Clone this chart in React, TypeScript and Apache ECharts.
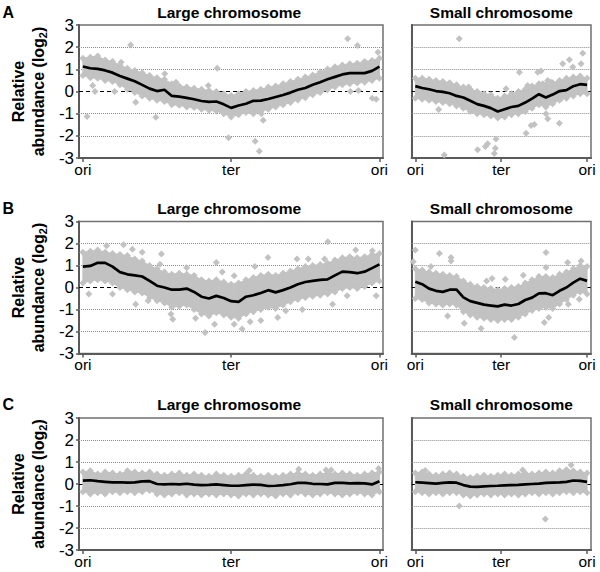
import React, { useEffect, useRef } from "react";
import * as echarts from "echarts";

const FONT = "'Liberation Sans', Arial, Helvetica, sans-serif";
const GRAY = "#c2c2c2";

// genome position grids (ori = 0, ter = 50, ori = 100)
const largeX = [0, 2.5, 5, 7.5, 10, 12.5, 15, 17.5, 20, 22.5, 25, 27.5, 30, 32.5, 35, 37.5, 40, 42.5, 45, 47.5, 50, 52.5, 55, 57.5, 60, 62.5, 65, 67.5, 70, 72.5, 75, 77.5, 80, 82.5, 85, 87.5, 90, 92.5, 95, 97.5, 100];
const smallX = [0, 4, 8, 12, 16, 20, 24, 28, 32, 36, 40, 44, 48, 52, 56, 60, 64, 68, 72, 76, 80, 84, 88, 92, 96, 100];

const xTickValues = [0, 50, 100];
const xTickLabels = ["ori", "ter", "ori"];
const gridLineValues = [-2, -1, 1, 2];

const rowLetters = ["A", "B", "C"];
const panelTitles = ["Large chromosome", "Small chromosome"];

// ---- Row A ----
const aLargeMean = [1.13, 1.05, 1.02, 0.95, 0.85, 0.7, 0.58, 0.46, 0.3, 0.13, 0.02, 0.08, -0.2, -0.23, -0.29, -0.35, -0.43, -0.47, -0.45, -0.58, -0.74, -0.63, -0.55, -0.42, -0.41, -0.34, -0.25, -0.16, -0.05, 0.08, 0.16, 0.3, 0.42, 0.55, 0.66, 0.77, 0.83, 0.83, 0.83, 0.93, 1.12];
const aLargeUpper = [1.5, 1.55, 1.6, 1.42, 1.35, 1.2, 1.05, 0.95, 0.85, 0.72, 0.62, 0.55, 0.35, 0.25, 0.2, 0.15, 0.1, 0.05, 0.0, -0.1, -0.18, -0.1, 0.0, 0.05, 0.1, 0.2, 0.25, 0.35, 0.45, 0.55, 0.65, 0.75, 0.88, 1.02, 1.12, 1.2, 1.25, 1.28, 1.35, 1.4, 1.5];
const aLargeLower = [0.72, 0.62, 0.6, 0.5, 0.45, 0.3, 0.1, -0.05, -0.2, -0.3, -0.4, -0.45, -0.6, -0.62, -0.7, -0.72, -0.8, -0.85, -0.88, -1.0, -1.15, -1.05, -0.95, -1.0, -0.9, -0.8, -0.7, -0.6, -0.5, -0.38, -0.28, -0.15, -0.05, 0.08, 0.2, 0.3, 0.35, 0.38, 0.42, 0.5, 0.6];
const aLargeOut = [[16.1, 2.1], [1.4, -1.13], [12.9, 1.32], [24.6, -1.16], [45.3, 1.05], [49.1, -2.09], [58.1, -2.24], [59.5, -2.7], [89.3, 2.38], [92.6, 2.08], [99.5, 1.77], [97.6, -0.3], [98.9, -0.35], [10.7, 0.0], [4.1, 0.0], [3.3, 0.27], [17.8, -0.48], [27.6, 0.8], [31.4, 0.42], [60.8, -1.3], [60.2, -1.0], [42.3, 0.27], [90.2, 0.0], [92.9, 0.05]];

const aSmallMean = [0.24, 0.16, 0.1, 0.02, -0.02, -0.08, -0.2, -0.27, -0.42, -0.57, -0.65, -0.75, -0.9, -0.8, -0.7, -0.65, -0.5, -0.32, -0.12, -0.27, -0.14, 0.02, 0.06, 0.24, 0.33, 0.3];
const aSmallUpper = [0.6, 0.6, 0.55, 0.5, 0.45, 0.4, 0.3, 0.2, 0.1, 0.0, -0.1, -0.15, -0.3, -0.2, -0.1, 0.0, 0.1, 0.25, 0.35, 0.3, 0.4, 0.5, 0.6, 0.65, 0.7, 0.6];
const aSmallLower = [-0.3, -0.35, -0.4, -0.45, -0.5, -0.55, -0.65, -0.75, -0.9, -1.0, -1.05, -1.1, -1.2, -1.15, -1.05, -1.0, -0.9, -0.75, -0.6, -0.7, -0.55, -0.4, -0.3, -0.2, -0.1, -0.1];
const aSmallOut = [[25.6, 2.38], [16.9, -2.86], [13.6, -0.81], [36.3, -2.63], [40.8, -2.48], [42.1, -2.36], [47, -2.14], [46.6, -2.56], [46, -2.8], [60.6, 0.87], [65.4, 0.27], [64.5, -1.88], [67.4, -1.53], [69.3, -1.49], [71.3, 0.87], [73.2, 0.92], [74.2, 0.35], [77.1, 0.5], [76.1, -1.0], [77.1, -1.23], [79, 0.42], [83.9, -1.43], [85.8, 1.25], [89.7, 1.43], [91.7, 1.1], [96.5, 1.25], [97.5, 1.73], [31, 0.2], [52.8, 0.12]];

// ---- Row B ----
const bLargeMean = [0.95, 0.98, 1.12, 1.12, 0.95, 0.7, 0.6, 0.55, 0.5, 0.3, 0.08, 0.0, -0.1, -0.1, -0.05, -0.2, -0.42, -0.5, -0.38, -0.48, -0.62, -0.65, -0.42, -0.35, -0.25, -0.12, -0.22, -0.12, 0.0, 0.15, 0.25, 0.3, 0.35, 0.37, 0.55, 0.72, 0.7, 0.65, 0.72, 0.88, 1.05];
const bLargeUpper = [1.6, 1.65, 1.7, 1.6, 1.55, 1.5, 1.45, 1.3, 1.2, 1.0, 0.85, 0.7, 0.6, 0.65, 0.6, 0.55, 0.35, 0.3, 0.35, 0.25, 0.15, 0.2, 0.35, 0.45, 0.55, 0.6, 0.55, 0.65, 0.75, 0.85, 0.95, 1.0, 1.05, 1.1, 1.25, 1.35, 1.4, 1.35, 1.4, 1.5, 1.55];
const bLargeLower = [0.2, 0.3, 0.35, 0.3, 0.2, 0.0, -0.1, -0.2, -0.25, -0.45, -0.6, -0.7, -0.9, -0.85, -0.8, -1.0, -1.2, -1.3, -1.15, -1.25, -1.35, -1.4, -1.2, -1.1, -1.0, -0.9, -0.95, -0.8, -0.65, -0.55, -0.45, -0.4, -0.35, -0.3, -0.2, -0.05, 0.0, -0.05, 0.05, 0.2, 0.3];
const bLargeOut = [[13.7, 1.94], [16.7, 1.74], [26.5, 1.52], [17.8, -0.76], [29.7, -1.21], [30.3, -1.44], [41.2, -2.05], [44.4, -1.67], [51, -1.67], [53.7, -1.89], [56.4, -1.56], [62.4, 1.36], [72.2, 1.29], [82.6, 2.08], [81.5, 1.29], [65.7, -1.36], [68.4, -1.06], [84.2, -0.76], [89.1, -0.38], [97.6, 1.67], [98.9, -0.38], [2, -0.3], [45, 1.14], [51, 0.53], [26, 1.06], [8, 1.9], [20, 1.6], [35, 0.9], [47, 0.7], [58, 0.95], [76, 1.3], [92, 1.7], [38, -1.4], [60, -1.5], [74, -1.0], [10, -0.3], [22, -0.6]];

const bSmallMean = [0.26, 0.15, -0.05, -0.15, -0.2, -0.1, -0.1, -0.45, -0.62, -0.7, -0.78, -0.82, -0.86, -0.78, -0.82, -0.75, -0.57, -0.46, -0.27, -0.26, -0.35, -0.15, 0.0, 0.22, 0.4, 0.3];
const bSmallUpper = [0.85, 0.8, 0.7, 0.65, 0.6, 0.55, 0.5, 0.3, 0.15, 0.05, 0.0, -0.05, -0.1, -0.05, 0.0, 0.05, 0.2, 0.35, 0.5, 0.5, 0.45, 0.6, 0.7, 0.85, 1.0, 0.95];
const bSmallLower = [-0.5, -0.55, -0.7, -0.75, -0.8, -0.75, -0.8, -1.1, -1.25, -1.35, -1.4, -1.45, -1.5, -1.45, -1.45, -1.35, -1.2, -1.05, -0.95, -0.9, -0.95, -0.75, -0.55, -0.35, -0.2, -0.3];
const bSmallOut = [[0, 1.7], [-1.2, 1.17], [14, 1.55], [20.8, 1.36], [20.8, 1.2], [9.1, 0.95], [18.8, -1.29], [28.5, -1.62], [38.3, -1.86], [41.5, 0.29], [44.7, 0.41], [52.4, 0.38], [62.9, 0.56], [57.7, -2.27], [76.1, 1.59], [76.1, 0.91], [75.1, -1.59], [77.7, -1.36], [88.7, 1.14], [89.1, -0.76], [95.5, -0.53], [96.5, 1.21]];

// ---- Row C ----
const cLargeMean = [0.15, 0.17, 0.13, 0.1, 0.07, 0.08, 0.06, 0.07, 0.12, 0.13, 0.0, -0.02, 0.0, -0.02, 0.01, -0.03, -0.05, -0.04, -0.02, -0.05, -0.08, -0.08, -0.05, -0.03, -0.04, -0.09, -0.08, -0.05, -0.01, 0.05, 0.05, 0.01, 0.0, -0.02, 0.05, 0.05, 0.03, 0.04, 0.03, -0.02, 0.12];
const cLargeUpper = [0.55, 0.6, 0.45, 0.55, 0.5, 0.45, 0.6, 0.55, 0.5, 0.55, 0.45, 0.4, 0.45, 0.5, 0.4, 0.45, 0.4, 0.35, 0.45, 0.4, 0.35, 0.4, 0.45, 0.4, 0.35, 0.4, 0.35, 0.4, 0.45, 0.5, 0.45, 0.4, 0.45, 0.5, 0.45, 0.5, 0.45, 0.4, 0.45, 0.5, 0.55];
const cLargeLower = [-0.35, -0.45, -0.4, -0.45, -0.35, -0.4, -0.35, -0.4, -0.35, -0.3, -0.45, -0.5, -0.45, -0.4, -0.5, -0.45, -0.5, -0.45, -0.5, -0.45, -0.5, -0.55, -0.45, -0.5, -0.45, -0.5, -0.55, -0.45, -0.5, -0.4, -0.45, -0.5, -0.45, -0.4, -0.45, -0.5, -0.45, -0.4, -0.45, -0.5, -0.35];
const cLargeOut = [[56.1, 0.61], [72.8, 0.67], [82, 0.64], [83.7, 0.64], [99.7, 0.71]];

const cSmallMean = [0.08, 0.06, 0.04, 0.02, 0.05, 0.07, 0.06, -0.05, -0.12, -0.13, -0.11, -0.09, -0.08, -0.06, -0.05, -0.04, -0.02, 0.0, 0.02, 0.05, 0.06, 0.07, 0.1, 0.16, 0.14, 0.1];
const cSmallUpper = [0.5, 0.55, 0.45, 0.4, 0.45, 0.5, 0.45, 0.35, 0.3, 0.35, 0.4, 0.35, 0.4, 0.45, 0.4, 0.45, 0.5, 0.45, 0.5, 0.55, 0.5, 0.6, 0.65, 0.6, 0.55, 0.5];
const cSmallLower = [-0.35, -0.4, -0.45, -0.4, -0.45, -0.4, -0.4, -0.5, -0.55, -0.5, -0.45, -0.5, -0.45, -0.5, -0.45, -0.5, -0.45, -0.4, -0.45, -0.4, -0.45, -0.4, -0.35, -0.4, -0.35, -0.4];
const cSmallOut = [[5.8, 0.61], [25.6, -1.0], [75.7, -1.59], [90.7, 0.86], [62.5, 0.64]];

const panels = [
  { row: 0, large: true, xs: largeX, mean: aLargeMean, upper: aLargeUpper, lower: aLargeLower, out: aLargeOut },
  { row: 0, large: false, xs: smallX, mean: aSmallMean, upper: aSmallUpper, lower: aSmallLower, out: aSmallOut },
  { row: 1, large: true, xs: largeX, mean: bLargeMean, upper: bLargeUpper, lower: bLargeLower, out: bLargeOut },
  { row: 1, large: false, xs: smallX, mean: bSmallMean, upper: bSmallUpper, lower: bSmallLower, out: bSmallOut },
  { row: 2, large: true, xs: largeX, mean: cLargeMean, upper: cLargeUpper, lower: cLargeLower, out: cLargeOut },
  { row: 2, large: false, xs: smallX, mean: cSmallMean, upper: cSmallUpper, lower: cSmallLower, out: cSmallOut },
];

// layout
const rowTop = [25, 221.5, 418];
const rowHeight = [133, 132, 132];
const titleY = [12.3, 208.3, 404.5];
const largeLeft = 69.3, largeWidth = 313.7;
const smallLeft = 411.7, smallWidth = 179.3;

function bandItem(params: any, api: any) {
  const a = api.coord([api.value(0), api.value(2)]);
  const b = api.coord([api.value(3), api.value(5)]);
  const c = api.coord([api.value(3), api.value(4)]);
  const d = api.coord([api.value(0), api.value(1)]);
  return {
    type: "polygon",
    shape: { points: [a, b, c, d] },
    style: { fill: GRAY, stroke: GRAY, lineWidth: 1 },
  };
}

function buildOption() {
  const grid: any[] = [];
  const xAxis: any[] = [];
  const yAxis: any[] = [];
  const series: any[] = [];
  const graphic: any[] = [];

  panels.forEach((p, i) => {
    grid.push({
      left: p.large ? largeLeft : smallLeft,
      width: p.large ? largeWidth : smallWidth,
      top: rowTop[p.row],
      height: rowHeight[p.row],
      show: true,
      borderColor: "#707070",
      borderWidth: 1.5,
      backgroundColor: "transparent",
      containLabel: false,
    });
    xAxis.push({
      type: "value",
      gridIndex: i,
      min: p.large ? -1.3 : -2.1,
      max: p.large ? 101.2 : 102.3,
      axisLine: { show: true, onZero: false, lineStyle: { color: "#5a5a5a", width: 2 } },
      axisTick: { show: true, length: 4, customValues: xTickValues, lineStyle: { color: "#5a5a5a", width: 1.5 } },
      axisLabel: {
        show: true,
        customValues: xTickValues,
        margin: 3,
        fontSize: 15.5,
        fontFamily: FONT,
        color: "#000",
        formatter: (v: number) => xTickLabels[xTickValues.indexOf(Math.round(v))] ?? "",
      },
      splitLine: { show: false },
    });
    yAxis.push({
      type: "value",
      gridIndex: i,
      min: -3,
      max: 3,
      interval: 1,
      axisLine: { show: true, onZero: false, lineStyle: { color: "#5a5a5a", width: 2 } },
      axisTick: { show: p.large, length: 3, lineStyle: { color: "#5a5a5a", width: 1.5 } },
      axisLabel: { show: p.large, margin: 5, fontSize: 17, fontFamily: FONT, color: "#000" },
      splitLine: { show: false },
      name: p.large ? "{b|Relative}\n{b|abundance (log}{s|2}{b|)}" : "",
      nameLocation: "middle",
      nameRotate: 90,
      nameGap: 21,
      nameTextStyle: {
        fontFamily: FONT,
        fontWeight: "bold",
        fontSize: 16,
        lineHeight: 20,
        color: "#000",
        rich: {
          b: { fontFamily: FONT, fontWeight: "bold", fontSize: 16, lineHeight: 20, color: "#000" },
          s: { fontFamily: FONT, fontWeight: "bold", fontSize: 11, lineHeight: 11, verticalAlign: "bottom", color: "#000" },
        },
      },
    });

    const segs = p.xs.slice(0, -1).map((x, k) => [x, p.lower[k], p.upper[k], p.xs[k + 1], p.lower[k + 1], p.upper[k + 1]]);
    const edges = p.xs.map((x, k) => [x, p.upper[k]]).concat(p.xs.map((x, k) => [x, p.lower[k]]));

    series.push({
      type: "custom",
      xAxisIndex: i,
      yAxisIndex: i,
      z: 2,
      silent: true,
      renderItem: bandItem,
      encode: { x: [0, 3], y: [1, 2, 4, 5] },
      data: segs,
    });
    series.push({
      type: "scatter",
      xAxisIndex: i,
      yAxisIndex: i,
      z: 2,
      silent: true,
      symbol: "diamond",
      symbolSize: 7,
      itemStyle: { color: GRAY, opacity: 1 },
      data: edges.concat(p.out),
    });
    series.push({
      type: "line",
      xAxisIndex: i,
      yAxisIndex: i,
      z: 3,
      silent: true,
      symbol: "none",
      showSymbol: false,
      lineStyle: { color: "#000", width: 2.7 },
      data: p.xs.map((x, k) => [x, p.mean[k]]),
      markLine: {
        silent: true,
        z: 1,
        symbol: "none",
        label: { show: false },
        data: [
          ...gridLineValues.map((v) => ({ yAxis: v, lineStyle: { type: "dotted", color: "#8a8a8a", width: 1 } })),
          { yAxis: 0, lineStyle: { type: [4, 3], color: "#000", width: 1 } },
        ],
      },
    });

    graphic.push({
      type: "text",
      x: p.large ? largeLeft + largeWidth / 2 + 3 : smallLeft + smallWidth / 2,
      y: titleY[p.row],
      style: {
        text: panelTitles[p.large ? 0 : 1],
        fontFamily: FONT,
        fontWeight: "bold",
        fontSize: 15.5,
        fill: "#000",
        align: "center",
        verticalAlign: "middle",
      },
    });
  });

  rowLetters.forEach((l, r) => {
    graphic.push({
      type: "text",
      x: 2.5,
      y: titleY[r],
      style: {
        text: l,
        fontFamily: FONT,
        fontWeight: "bold",
        fontSize: 16,
        fill: "#000",
        align: "left",
        verticalAlign: "middle",
      },
    });
  });

  return {
    animation: false,
    backgroundColor: "#fff",
    grid,
    xAxis,
    yAxis,
    series,
    graphic,
  };
}

export default function App() {
  const ref = useRef<HTMLDivElement>(null);
  useEffect(() => {
    document.body.style.margin = "0";
    if (!ref.current) return;
    const chart = echarts.init(ref.current, undefined, { renderer: "svg" });
    chart.setOption(buildOption() as any);
    return () => chart.dispose();
  }, []);
  return <div ref={ref} style={{ width: 600, height: 572 }} />;
}
